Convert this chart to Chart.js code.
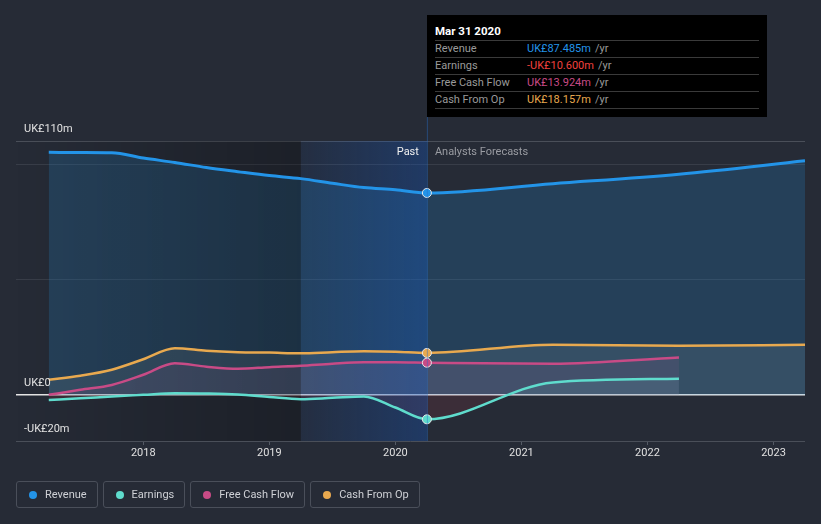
<!DOCTYPE html>
<html>
<head>
<meta charset="utf-8">
<script src="https://cdn.jsdelivr.net/npm/chart.js@4/dist/chart.umd.min.js"></script>
<style>
  html, body { margin: 0; padding: 0; background: #262b36; }
  body { width: 821px; height: 524px; position: relative; overflow: hidden; font-family: Roboto, "Noto Sans", sans-serif; }
  #wrap { position: absolute; left: 0; top: 0; width: 821px; height: 524px; }
  #tip { position: absolute; left: 427px; top: 15px; width: 340px; height: 102px; background: #000; box-sizing: border-box; padding: 7px 8px 0 8px; }
  #tip .title { color: #fff; font-weight: bold; font-size: 11.5px; height: 18px; line-height: 18px; border-bottom: 1px solid #3a3a3a; }
  #tip .row { font-size: 11px; height: 16px; line-height: 16px; border-bottom: 1px solid #3a3a3a; display: flex; }
  #tip .lab { color: #9a9a9a; width: 92px; }
  #tip .unit { color: #9a9a9a; margin-left: 4px; }
  #legend { position: absolute; left: 16px; top: 481px; display: flex; gap: 5px; }
  .item { border: 1px solid #4a4f5a; border-radius: 3px; height: 27px; box-sizing: border-box; display: flex; align-items: center; padding: 0 10px 0 12px; color: #cfd1d6; font-size: 11px; }
  .dot { width: 8px; height: 8px; border-radius: 50%; margin-right: 8px; }
</style>
</head>
<body>
<div id="wrap"><canvas id="chart" width="821" height="524"></canvas></div>
<div id="tip">
  <div class="title">Mar 31 2020</div>
  <div class="row"><span class="lab">Revenue</span><span style="color:#2394e8">UK£87.485m</span><span class="unit">/yr</span></div>
  <div class="row"><span class="lab">Earnings</span><span style="color:#f0413e">-UK£10.600m</span><span class="unit">/yr</span></div>
  <div class="row"><span class="lab">Free Cash Flow</span><span style="color:#c84b86">UK£13.924m</span><span class="unit">/yr</span></div>
  <div class="row"><span class="lab">Cash From Op</span><span style="color:#e8a94f">UK£18.157m</span><span class="unit">/yr</span></div>
</div>
<div id="legend"></div>
<script>
// dates as decimal years (Mar 31 = .25)
const dates = [2017.25, 2017.5, 2017.75, 2018.0, 2018.25, 2018.5, 2018.75, 2019.0, 2019.25, 2019.5, 2019.75, 2020.0, 2020.25, 2021.25, 2022.25, 2023.25];
const revenue = [105.1, 105.0, 104.9, 102.6, 100.7, 98.5, 96.7, 95.0, 93.7, 91.7, 89.8, 88.9, 87.485, 91.5, 95.6, 101.4];
const cashFromOp = [6.5, 8.3, 10.9, 15.4, 20.2, 19.1, 18.5, 18.3, 18.0, 18.5, 18.9, 18.7, 18.157, 21.7, 21.3, 21.7];
const freeCashFlow = [0.0, 2.2, 4.3, 8.7, 13.7, 12.2, 11.3, 12.0, 12.6, 13.5, 14.1, 14.1, 13.924, 13.5, 16.2];
const earnings = [-2.2, -1.5, -0.7, 0.0, 0.7, 0.6, 0.2, -0.9, -1.9, -1.3, -0.7, -5.5, -10.6, 5.4, 7.0];

const yearTicks = [2018, 2019, 2020, 2021, 2022, 2023];
const yGrid = [-20, 0, 50, 100, 110];
const yLabelValues = [110, 0, -20];
const yLabelTexts = ["UK£110m", "UK£0", "-UK£20m"];

const nowDate = 2020.25;
const pastStart = 2019.25;

const series = [
  { name: "Revenue", color: "#2394e8", values: revenue, fill: "rgba(35,148,232,0.2)" },
  { name: "Earnings", color: "#5fdccd", values: earnings, fill: { target: "origin", above: "rgba(95,220,205,0.12)", below: "rgba(200,60,70,0.13)" } },
  { name: "Free Cash Flow", color: "#c84b86", values: freeCashFlow, fill: "rgba(200,75,134,0.12)" },
  { name: "Cash From Op", color: "#e8a94f", values: cashFromOp, fill: "rgba(210,200,185,0.12)" },
];

function toPoints(vals) {
  return vals.map((v, i) => ({ x: dates[i], y: v }));
}

// draw order: revenue, cash from op, fcf, earnings
const drawOrder = ["Revenue", "Cash From Op", "Free Cash Flow", "Earnings"];
const datasets = drawOrder.map((n) => {
  const s = series.find((d) => d.name === n);
  return {
    label: s.name,
    data: toPoints(s.values),
    borderColor: s.color,
    backgroundColor: s.fill,
    fill: typeof s.fill === "string" ? "origin" : s.fill,
    borderWidth: n === "Revenue" ? 3 : 2.5,
    cubicInterpolationMode: "monotone",
    pointRadius: (c) => (c.raw && c.raw.x === nowDate ? 4.5 : 0),
    pointBackgroundColor: s.color,
    pointBorderColor: "#e8e8e8",
    pointBorderWidth: 1,
  };
});

const bandsPlugin = {
  id: "bands",
  beforeDatasetsDraw(chart) {
    const { ctx, chartArea, scales } = chart;
    const x = scales.x;
    const xPast = x.getPixelForValue(pastStart);
    const xNow = x.getPixelForValue(nowDate);
    ctx.save();
    let g = ctx.createLinearGradient(chartArea.left, 0, xPast, 0);
    g.addColorStop(0, "rgba(0,0,0,0)");
    g.addColorStop(1, "rgba(0,0,0,0.25)");
    ctx.fillStyle = g;
    ctx.fillRect(chartArea.left, chartArea.top, xPast - chartArea.left, chartArea.bottom - chartArea.top);
    g = ctx.createLinearGradient(xPast, 0, xNow, 0);
    g.addColorStop(0, "rgba(20,90,200,0.08)");
    g.addColorStop(1, "rgba(20,90,200,0.32)");
    ctx.fillStyle = g;
    ctx.fillRect(xPast, chartArea.top, xNow - xPast, chartArea.bottom - chartArea.top);
    ctx.restore();
  },
  afterDatasetsDraw(chart) {
    const { ctx, chartArea, scales } = chart;
    const x = scales.x, y = scales.y;
    const xNow = x.getPixelForValue(nowDate);
    ctx.save();
    // vertical marker
    ctx.strokeStyle = "rgba(40,110,200,0.45)";
    ctx.lineWidth = 1;
    ctx.beginPath();
    ctx.moveTo(xNow + 0.5, 117);
    ctx.lineTo(xNow + 0.5, chartArea.bottom);
    ctx.stroke();
    // y labels
    ctx.font = "11px Roboto";
    ctx.fillStyle = "#e2e2e2";
    ctx.textBaseline = "bottom";
    ctx.textAlign = "left";
    yLabelValues.forEach((v, i) => {
      ctx.fillText(yLabelTexts[i], chartArea.left + 8, y.getPixelForValue(v) - 6);
    });
    // past / forecast
    const yTxt = (y.getPixelForValue(110) + y.getPixelForValue(100)) / 2;
    ctx.textBaseline = "middle";
    ctx.textAlign = "right";
    ctx.fillStyle = "#f0f0f0";
    ctx.fillText("Past", xNow - 8, yTxt);
    ctx.textAlign = "left";
    ctx.fillStyle = "#9a9ca2";
    ctx.fillText("Analysts Forecasts", xNow + 8, yTxt);
    ctx.restore();
  },
};

new Chart(document.getElementById("chart"), {
  type: "line",
  data: { datasets },
  options: {
    responsive: false,
    animation: false,
    layout: { padding: { top: 141, left: 16, right: 16, bottom: 63 } },
    plugins: { legend: { display: false }, tooltip: { enabled: false }, filler: { drawTime: "beforeDatasetsDraw" } },
    scales: {
      x: {
        type: "linear",
        min: 2016.99,
        max: 2023.25,
        afterBuildTicks: (s) => { s.ticks = yearTicks.map((v) => ({ value: v })); },
        afterFit: (s) => { s.height = 20; },
        ticks: { color: "#e0e0e0", font: { family: "Roboto", size: 11 }, padding: 2, maxRotation: 0, callback: (v) => String(v) },
        grid: { drawOnChartArea: false, tickLength: 4, color: "#555b66" },
        border: { display: false },
      },
      y: {
        min: -20,
        max: 110,
        afterBuildTicks: (s) => { s.ticks = yGrid.map((v) => ({ value: v })); },
        afterFit: (s) => { s.width = 0; },
        ticks: { display: false },
        grid: {
          drawTicks: false,
          color: (c) => (c.tick.value === 0 ? "#e6e6e6" : c.tick.value === 110 || c.tick.value === -20 ? "#4a4f59" : "#383d48"),
          lineWidth: (c) => (c.tick.value === 0 ? 1.5 : 1),
        },
        border: { display: false },
      },
    },
  },
  plugins: [bandsPlugin],
});

const legend = document.getElementById("legend");
series.forEach((s) => {
  const d = document.createElement("div");
  d.className = "item";
  d.innerHTML = '<span class="dot" style="background:' + s.color + '"></span>' + s.name;
  legend.appendChild(d);
});
</script>
</body>
</html>
